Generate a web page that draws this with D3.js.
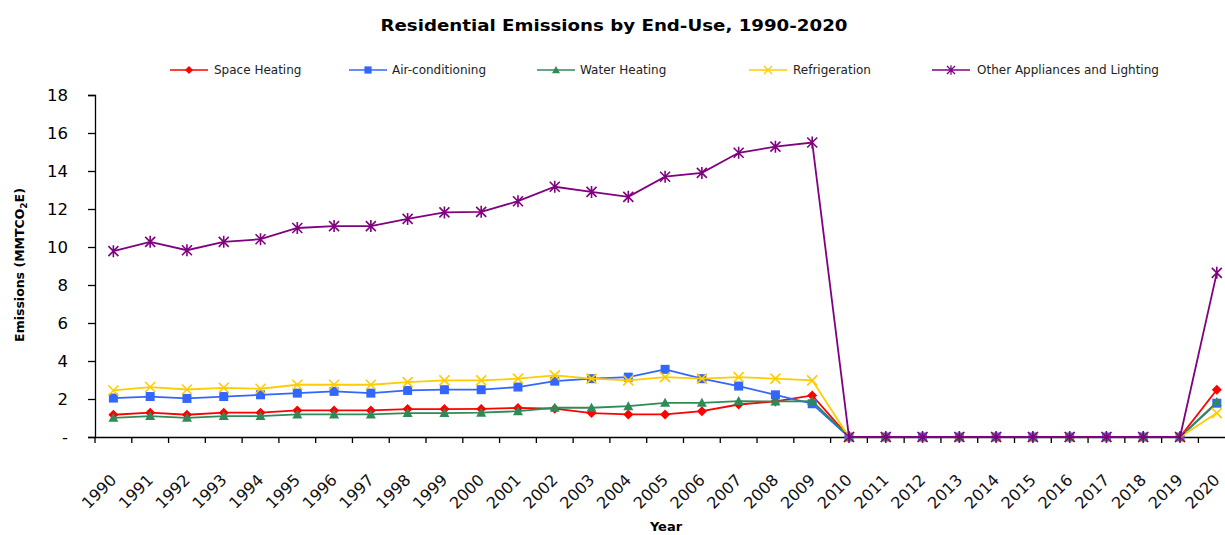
<!DOCTYPE html>
<html>
<head>
<meta charset="utf-8">
<script src="https://cdn.jsdelivr.net/npm/d3@7"></script>
<style>
  body { margin: 0; background: #fff; }
  svg { display: block; font-family: "Comic Sans MS", "DejaVu Sans", sans-serif; }
</style>
</head>
<body>
<svg id="chart" width="1225" height="535"></svg>
<script>
const years = d3.range(1990, 2021).map(String);

const spaceHeating = [1.17, 1.28, 1.17, 1.28, 1.28, 1.40, 1.40, 1.40, 1.47, 1.47, 1.48, 1.53, 1.49, 1.26, 1.19, 1.19, 1.36, 1.71, 1.87, 2.19,
  0, 0, 0, 0, 0, 0, 0, 0, 0, 0, 2.49];
const airConditioning = [2.05, 2.13, 2.03, 2.13, 2.22, 2.31, 2.40, 2.31, 2.45, 2.49, 2.49, 2.63, 2.94, 3.07, 3.15, 3.56, 3.07, 2.68, 2.22, 1.75,
  0, 0, 0, 0, 0, 0, 0, 0, 0, 0, 1.78];
const waterHeating = [1.01, 1.10, 1.01, 1.10, 1.10, 1.19, 1.19, 1.19, 1.26, 1.26, 1.28, 1.36, 1.54, 1.54, 1.62, 1.80, 1.80, 1.89, 1.87, 1.89,
  0, 0, 0, 0, 0, 0, 0, 0, 0, 0, 1.84];
const refrigeration = [2.45, 2.63, 2.50, 2.59, 2.54, 2.75, 2.75, 2.75, 2.89, 2.98, 2.98, 3.07, 3.24, 3.07, 2.98, 3.15, 3.07, 3.15, 3.07, 2.98,
  0, 0, 0, 0, 0, 0, 0, 0, 0, 0, 1.26];
const otherAppliances = [9.78, 10.27, 9.83, 10.27, 10.41, 11.00, 11.10, 11.10, 11.48, 11.82, 11.85, 12.41, 13.17, 12.90, 12.64, 13.70, 13.90, 14.96, 15.28, 15.50,
  0, 0, 0, 0, 0, 0, 0, 0, 0, 0, 8.64];

const yTicks = [0, 2, 4, 6, 8, 10, 12, 14, 16, 18];

const series = [
  { name: "Space Heating", values: spaceHeating, color: "#ff0000", marker: "diamond" },
  { name: "Air-conditioning", values: airConditioning, color: "#3366ff", marker: "square" },
  { name: "Water Heating", values: waterHeating, color: "#2e8b57", marker: "triangle" },
  { name: "Refrigeration", values: refrigeration, color: "#ffcc00", marker: "cross" },
  { name: "Other Appliances and Lighting", values: otherAppliances, color: "#800080", marker: "star" },
];

const svg = d3.select("#chart");
const plotLeft = 95, plotBottom = 437, plotTop = 95;
const step = 36.78;
const font = "'DejaVu Sans', sans-serif";

const x = d3.scaleBand().domain(years).range([plotLeft, plotLeft + step * years.length]).padding(0);
const y = d3.scaleLinear().domain([0, 18]).range([plotBottom, plotTop]);

// Title
svg.append("text")
  .attr("x", 614).attr("y", 31)
  .attr("text-anchor", "middle")
  .attr("font-size", 16).attr("font-weight", 700)
  .attr("textLength", 467).attr("lengthAdjust", "spacingAndGlyphs")
  .text("Residential Emissions by End-Use, 1990-2020");

// Marker shapes
function drawMarker(g, type, color) {
  if (type === "diamond") {
    g.append("path").attr("d", "M0,-5L5,0L0,5L-5,0Z").attr("fill", color);
  } else if (type === "square") {
    g.append("rect").attr("x", -4.5).attr("y", -4.5).attr("width", 9).attr("height", 9).attr("fill", color);
  } else if (type === "triangle") {
    g.append("path").attr("d", "M0,-5L5,4L-5,4Z").attr("fill", color);
  } else if (type === "cross") {
    g.append("path").attr("d", "M-5,-5L5,5M5,-5L-5,5").attr("stroke", color).attr("stroke-width", 1.6).attr("fill", "none");
  } else if (type === "star") {
    g.append("path").attr("d", "M-5,-5L5,5M5,-5L-5,5M0,-6L0,6").attr("stroke", color).attr("stroke-width", 1.6).attr("fill", "none");
  }
}

// Legend
const legendPos = [
  { lx: 170, tx: 214 },
  { lx: 349, tx: 392 },
  { lx: 537, tx: 580 },
  { lx: 749, tx: 793 },
  { lx: 932, tx: 977 },
];
series.forEach((s, i) => {
  const p = legendPos[i];
  const g = svg.append("g").attr("transform", `translate(${p.lx}, 70)`);
  g.append("line").attr("x1", 0).attr("x2", 38).attr("stroke", s.color).attr("stroke-width", 1.5);
  drawMarker(g.append("g").attr("transform", "translate(19,0) scale(0.8)"), s.marker, s.color);
  svg.append("text")
    .attr("x", p.tx).attr("y", 74)
    .attr("font-size", 12).attr("fill", "#222")
    .text(s.name);
});

// Y axis
const yAxis = svg.append("g")
  .attr("transform", `translate(${plotLeft},0)`)
  .call(d3.axisLeft(y).tickValues(yTicks).tickSize(7).tickPadding(20).tickFormat(d => d === 0 ? "-" : d));
yAxis.attr("font-family", font);
yAxis.select(".domain").attr("stroke", "#000").attr("stroke-width", 1.3);
yAxis.selectAll(".tick line").attr("stroke", "#000").attr("stroke-width", 1.3);
yAxis.selectAll(".tick text").attr("font-size", 16.5).attr("fill", "#000");

// X axis
const xAxis = svg.append("g")
  .attr("transform", `translate(0,${plotBottom})`)
  .call(d3.axisBottom(x).tickSize(0).tickSizeOuter(0).tickFormat(d => d));
xAxis.attr("font-family", font).attr("font-size", 16);
xAxis.select(".domain").attr("stroke", "#000").attr("stroke-width", 1.3);
xAxis.selectAll(".tick text")
  .attr("font-size", 16).attr("fill", "#111")
  .attr("text-anchor", "end")
  .attr("dy", null).attr("y", null)
  .attr("transform", "translate(4,44) rotate(-45)");
// boundary ticks between categories
xAxis.selectAll("line.bound")
  .data(years)
  .join("line")
  .attr("class", "bound")
  .attr("x1", d => x(d)).attr("x2", d => x(d))
  .attr("y1", 0).attr("y2", 6)
  .attr("stroke", "#000").attr("stroke-width", 1.3);

// Axis titles
svg.append("text")
  .attr("transform", "translate(24,265) rotate(-90)")
  .attr("text-anchor", "middle")
  .attr("font-size", 12.5).attr("font-weight", 700)
  .html('Emissions (MMTCO<tspan dy="3" font-size="9">2</tspan><tspan dy="-3">E)</tspan>');

svg.append("text")
  .attr("x", 666).attr("y", 531)
  .attr("text-anchor", "middle")
  .attr("font-size", 13).attr("font-weight", 700)
  .text("Year");

// Lines and markers
const cx = d => x(d) + x.bandwidth() / 2;
const line = d3.line().x((v, i) => cx(years[i])).y(v => y(v));

series.forEach(s => {
  const g = svg.append("g");
  g.append("path")
    .datum(s.values)
    .attr("d", line)
    .attr("fill", "none")
    .attr("stroke", s.color)
    .attr("stroke-width", 1.8);
  s.values.forEach((v, i) => {
    drawMarker(g.append("g").attr("transform", `translate(${cx(years[i])},${y(v)})`), s.marker, s.color);
  });
});
</script>
</body>
</html>
